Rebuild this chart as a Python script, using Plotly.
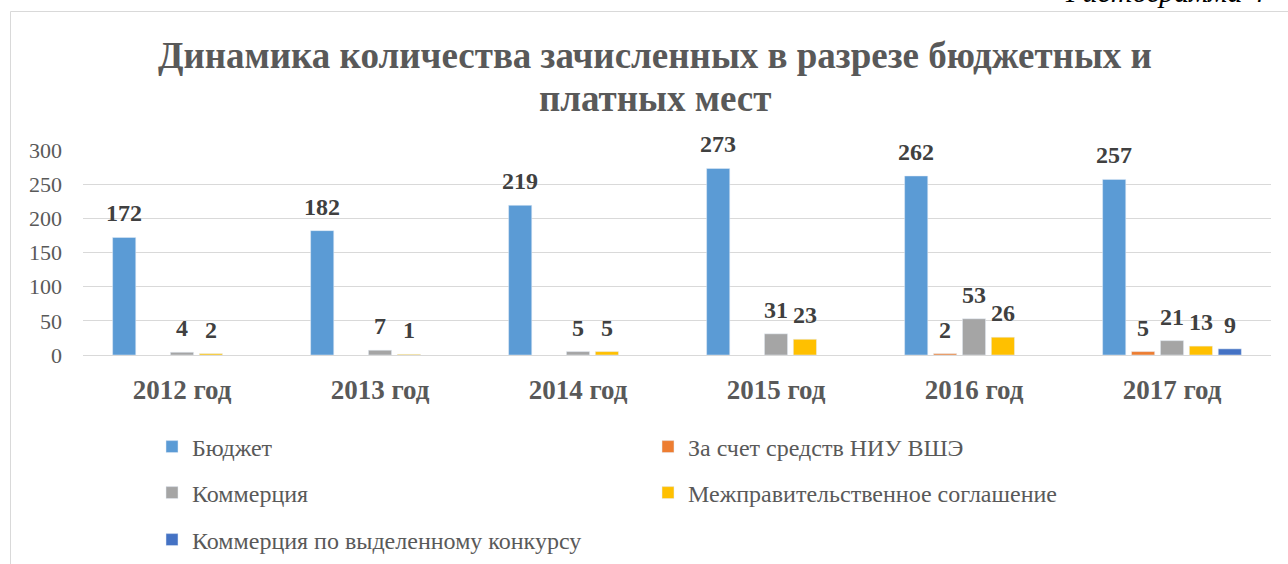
import plotly.graph_objects as go

categories = ["2012 год", "2013 год", "2014 год", "2015 год", "2016 год", "2017 год"]
series_names = ["Бюджет", "За счет средств НИУ ВШЭ", "Коммерция",
                "Межправительственное соглашение", "Коммерция по выделенному конкурсу"]
budget = [172, 182, 219, 273, 262, 257]
hse_funds = [None, None, None, None, 2, 5]
commerce = [4, 7, 5, 31, 53, 21]
intergov = [2, 1, 5, 23, 26, 13]
commerce_contest = [None, None, None, None, None, 9]
colors = ["#5B9BD5", "#ED7D31", "#A5A5A5", "#FFC000", "#4472C4"]
legend_ids = ["legend", "legend", "legend2", "legend2", "legend3"]

SERIF = "Liberation Serif, Times New Roman, serif"
GRAY = "#595959"

all_series = [budget, hse_funds, commerce, intergov, commerce_contest]

fig = go.Figure()
for name, vals, col, lg in zip(series_names, all_series, colors, legend_ids):
    fig.add_trace(go.Bar(
        name=name, x=categories, y=vals, marker_color=col,
        legend=lg,
    ))

W, H = 1288, 564
L, R, T, B = 83, 17, 150, 209
pw, ph = W - L - R, H - T - B
slot = pw / len(categories) * (1 - 0.27) / len(series_names)

def px_x(x):
    return (x - L) / pw

def px_y(y):
    return (H - B - y) / ph

# data labels (placed through the category / value axes)
for s, vals in enumerate(all_series):
    for cat, v in zip(categories, vals):
        if v is None:
            continue
        fig.add_annotation(
            x=cat, y=v, xref="x", yref="y", xshift=(s - 2) * slot, yshift=9,
            yanchor="bottom", xanchor="center", text=f"<b>{v}</b>", showarrow=False,
            font=dict(family=SERIF, size=24, color="#404040"),
        )

leg_common = dict(orientation="h", xanchor="left", yanchor="middle",
                  font=dict(family=SERIF, size=24, color=GRAY),
                  entrywidth=451, entrywidthmode="pixels",
                  bgcolor="rgba(0,0,0,0)", itemclick=False)

fig.update_layout(
    width=W, height=H,
    margin=dict(l=L, r=R, t=T, b=B, autoexpand=False),
    paper_bgcolor="white", plot_bgcolor="white",
    barmode="group", bargap=0.27, bargroupgap=0.2,
    legend=dict(x=px_x(152), y=px_y(447), **leg_common),
    legend2=dict(x=px_x(152), y=px_y(493), **leg_common),
    legend3=dict(x=px_x(152), y=px_y(540), **leg_common),
    xaxis=dict(tickfont=dict(family=SERIF, size=27, color=GRAY, weight="bold"),
               showgrid=False, showline=False, ticks="", ticklabelstandoff=16),
    yaxis=dict(range=[0, 300], tickvals=[0, 50, 100, 150, 200, 250, 300],
               tickfont=dict(family=SERIF, size=22, color=GRAY),
               showgrid=True, gridcolor="#D9D9D9", gridwidth=1,
               zeroline=True, zerolinecolor="#D9D9D9", zerolinewidth=1,
               showline=False, ticks="", ticklabelstandoff=20),
    showlegend=True,
)

# chart frame
fig.add_shape(type="rect", xref="paper", yref="paper",
              x0=px_x(10.5), x1=px_x(1320), y0=px_y(11.5), y1=px_y(600),
              line=dict(color="#D9D9D9", width=1), fillcolor="rgba(0,0,0,0)", layer="below")

# title (two lines)
fig.add_annotation(
    xref="paper", yref="paper", x=px_x(655), y=px_y(55), xanchor="center", yanchor="middle",
    text="<b>Динамика количества зачисленных в разрезе бюджетных и</b>",
    showarrow=False, font=dict(family=SERIF, size=37, color=GRAY),
)
fig.add_annotation(
    xref="paper", yref="paper", x=px_x(655), y=px_y(98), xanchor="center", yanchor="middle",
    text="<b>платных мест</b>",
    showarrow=False, font=dict(family=SERIF, size=37, color=GRAY),
)
fig.add_annotation(
    xref="paper", yref="paper", x=px_x(1063), y=px_y(-9), xanchor="left", yanchor="middle",
    text="<i>Гистограмма 4</i>", showarrow=False,
    font=dict(family=SERIF, size=30, color="#000000"),
)

fig.write_html("out.html", post_script="document.body.style.margin='0';",
               config={"displayModeBar": False})
